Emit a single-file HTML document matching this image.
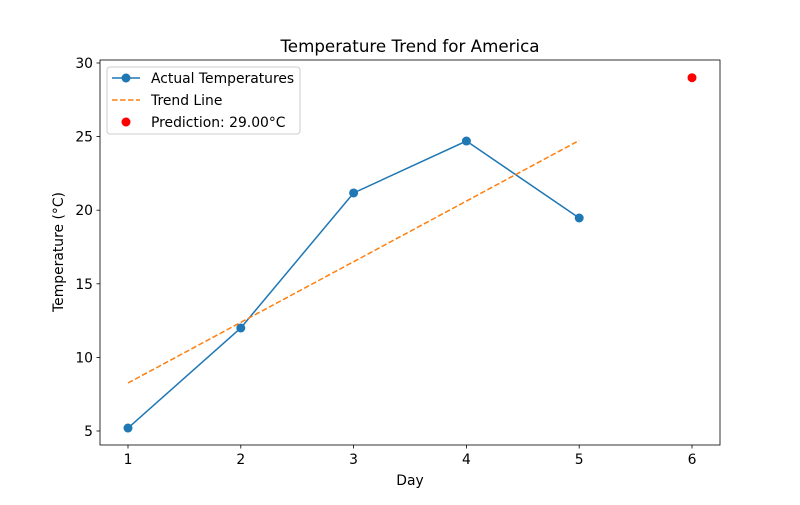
<!DOCTYPE html>
<html><head><meta charset="utf-8"><style>
body{margin:0;background:#fff;}
svg text{font-family:"DejaVu Sans","Liberation Sans",sans-serif;fill:#000;}
</style></head><body>
<svg id="chart" width="800" height="500" xmlns="http://www.w3.org/2000/svg"></svg>
<script>
const days = [1, 2, 3, 4, 5];
const temps = [5.2, 12.0, 21.17, 24.7, 19.47];
const trendX = [1, 5];
const trendY = [8.26, 24.74];
const predDay = [6];
const predTemp = [29.0];
const xTicks = [1, 2, 3, 4, 5, 6];
const yTicks = [5, 10, 15, 20, 25, 30];

const L=100,R=720,T=60,B=445;
const sx=v=>128+(v-1)*112.8;
const sy=v=>431-(v-5)*14.72;
const svg=document.getElementById('chart');
const NS='http://www.w3.org/2000/svg';
function mk(tag,attrs,name,parent){const e=document.createElementNS(NS,tag);for(const k in attrs)e.setAttribute(k,attrs[k]);


(parent||svg).appendChild(e);return e;}

mk('rect',{x:L,y:T,width:R-L,height:B-T,fill:'none',stroke:'#000','stroke-width':0.8},'plot-frame');
xTicks.forEach(t=>{const x=sx(t);
 mk('line',{x1:x,x2:x,y1:B,y2:B+3.5,stroke:'#000','stroke-width':0.8},'x-tick');
 const tx=mk('text',{x:x,y:B+19,'text-anchor':'middle','font-size':13.9},'x-tick-label');tx.textContent=t;});
yTicks.forEach(t=>{const y=sy(t);
 mk('line',{x1:L-3.5,x2:L,y1:y,y2:y,stroke:'#000','stroke-width':0.8},'y-tick');
 const tx=mk('text',{x:L-7,y:y+5,'text-anchor':'end','font-size':13.9},'y-tick-label');tx.textContent=t;});
let t=mk('text',{x:410,y:52,'text-anchor':'middle','font-size':16.7},'chart-title');t.textContent='Temperature Trend for America';
t=mk('text',{x:410,y:485,'text-anchor':'middle','font-size':13.9},'x-axis-title');t.textContent='Day';
t=mk('text',{x:63,y:252,'text-anchor':'middle','font-size':13.9,transform:'rotate(-90 63 252)'},'y-axis-title');t.textContent='Temperature (°C)';

mk('polyline',{points:days.map((d,i)=>sx(d)+','+sy(temps[i])).join(' '),fill:'none',stroke:'#1f77b4','stroke-width':1.5},'actual-line');
days.forEach((d,i)=>mk('circle',{cx:sx(d),cy:sy(temps[i]),r:4.5,fill:'#1f77b4'},'actual-point'));
mk('line',{x1:sx(trendX[0]),y1:sy(trendY[0]),x2:sx(trendX[1]),y2:sy(trendY[1]),stroke:'#ff7f0e','stroke-width':1.5,'stroke-dasharray':'5.5,2.5'},'trend-line');
predDay.forEach((d,i)=>mk('circle',{cx:sx(d),cy:sy(predTemp[i]),r:4.5,fill:'#ff0000'},'prediction-point'));

const lg=mk('g',{},'legend');
mk('rect',{x:107,y:67,width:193,height:67,rx:3,fill:'#fff','fill-opacity':0.8,stroke:'#ccc'},'legend-box',lg);
mk('line',{x1:112,x2:140,y1:78,y2:78,stroke:'#1f77b4','stroke-width':1.5},'legend-actual-line',lg);
mk('circle',{cx:126,cy:78,r:4.5,fill:'#1f77b4'},'legend-actual-marker',lg);
t=mk('text',{x:151,y:83,'font-size':13.9},'legend-actual-label',lg);t.textContent='Actual Temperatures';
mk('line',{x1:112,x2:140,y1:100,y2:100,stroke:'#ff7f0e','stroke-width':1.5,'stroke-dasharray':'5.5,2.5'},'legend-trend-line',lg);
t=mk('text',{x:151,y:105,'font-size':13.9},'legend-trend-label',lg);t.textContent='Trend Line';
mk('circle',{cx:126,cy:122,r:4.5,fill:'#ff0000'},'legend-prediction-marker',lg);
t=mk('text',{x:151,y:127,'font-size':13.9},'legend-prediction-label',lg);t.textContent='Prediction: 29.00°C';
</script>
</body></html>
